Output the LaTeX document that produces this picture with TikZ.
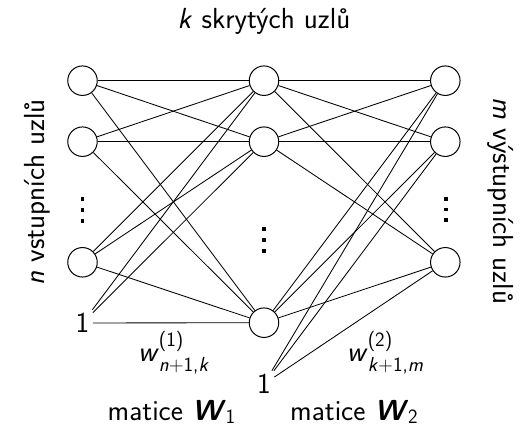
\documentclass[tikz,border=0pt]{standalone}
\usetikzlibrary{calc}
\tikzset{
  neuron/.style={circle, draw, line width=1pt, minimum size=29.5pt, inner sep=0pt, fill=white},
  biasnode/.style={inner sep=0.3333em},
  link/.style={line width=0.85pt},
  textlabel/.style={anchor=base},
}
% small text used for indices
\newcommand\idxsize{\fontsize{20.3}{24}\selectfont}
% weight symbol with an upper index (#1) and a lower index (#2)
\newcommand\weightsym[2]{\textit{w}\rlap{\raisebox{15pt}{\idxsize(#1)}}\raisebox{-10pt}{\idxsize #2}}
% bold matrix symbol with a lower index
\newcommand\matsym[1]{\textbf{\textit{W}}\raisebox{-3pt}{\idxsize #1}}
\begin{document}
\begin{tikzpicture}[x=1pt, y=-1pt, font=\sffamily\fontsize{29}{35}\selectfont]
  \useasboundingbox (0,0) rectangle (523,427);

  % input layer
  \node[neuron] (i1) at (82.5,80.7) {};
  \node[neuron] (i2) at (82.5,141.7) {};
  \node[neuron] (i3) at (82.5,262.3) {};
  \node[biasnode] (b1) at (82.5,323) {1};
  % hidden layer
  \node[neuron] (h1) at (264,80.7) {};
  \node[neuron] (h2) at (264,141.7) {};
  \node[neuron] (h3) at (264,322.7) {};
  \node[biasnode] (b2) at (264,384) {1};
  % output layer
  \node[neuron] (o1) at (445.3,80.7) {};
  \node[neuron] (o2) at (445.3,141.7) {};
  \node[neuron] (o3) at (445.3,262.3) {};

  % full connections between the layers
  \foreach \a in {i1,i2,i3,b1}
    \foreach \b in {h1,h2,h3}
      \draw[link] (\a) -- (\b);
  \foreach \a in {h1,h2,h3,b2}
    \foreach \b in {o1,o2,o3}
      \draw[link] (\a) -- (\b);

  % vertical ellipses for the omitted nodes
  \coordinate (d1) at (82.5,210);
  \coordinate (d2) at (264,240);
  \coordinate (d3) at (446,209.5);
  \foreach \c in {d1,d2,d3}
    \foreach \y in {-10.8,0,10.8}
      \fill ($(\c)+(-1.9,\y-1.9)$) rectangle ($(\c)+(1.9,\y+1.9)$);

  % layer captions
  \node[textlabel] (top) at (264,28.3) {\textit{k} skrytých uzlů};
  \node[textlabel, rotate=90] (left) at (44,192.5) {\textit{n} vstupních uzlů};
  \node[textlabel, rotate=-90] (right) at (493,201) {\textit{m} výstupních uzlů};

  % weight labels
  \node[textlabel] (w1) at (173.5,362) {\weightsym{1}{\textit{n}+1,\textit{k}}};
  \node[textlabel] (w2) at (385,362) {\weightsym{2}{\textit{k}+1,\textit{m}}};

  % weight matrices
  \node[textlabel] (m1) at (171.5,421) {matice \matsym{1}};
  \node[textlabel] (m2) at (354,421) {matice \matsym{2}};
\end{tikzpicture}
\end{document}
